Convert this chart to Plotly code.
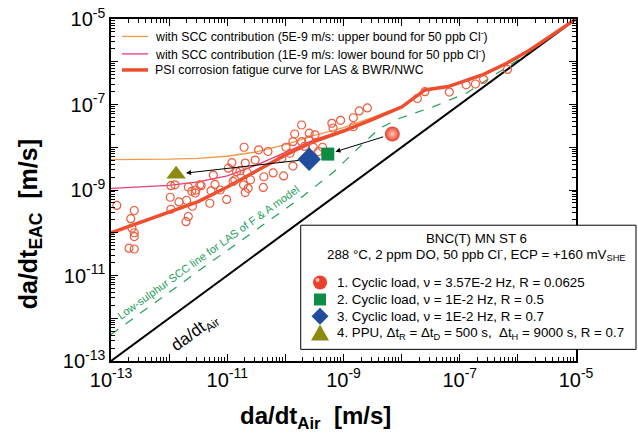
import plotly.graph_objects as go

# ---- data (log10 of da/dt values) ----
curve_x = [-13, -12.5, -12, -11.5, -11, -10.5, -10, -9.5, -9, -8.5, -8, -7.6, -7.2, -6.6, -6.2, -5.8, -5]
psi_y   = [-10.0, -9.76, -9.52, -9.27, -8.93, -8.55, -8.18, -7.86, -7.62, -7.35, -7.06, -6.66, -6.58, -6.30, -6.04, -5.73, -5.0]
upper_y = [-8.29, -8.29, -8.28, -8.26, -8.21, -8.11, -7.94, -7.72, -7.54, -7.30, -7.04, -6.65, -6.57, -6.30, -6.04, -5.73, -5.0]
lower_y = [-8.96, -8.93, -8.89, -8.81, -8.67, -8.42, -8.12, -7.82, -7.60, -7.34, -7.05, -6.66, -6.58, -6.30, -6.04, -5.73, -5.0]

ls_x = [-13, -11.5, -9.75, -9.17, -8.6, -8.37, -8.03, -7.45, -6.88, -6.53, -6.19, -5.8, -5.0]
ls_y = [-12.38, -10.9, -9.2, -8.58, -7.83, -7.55, -7.32, -7.05, -6.73, -6.42, -6.11, -5.78, -5.0]

air_x = [-13, -5]
air_y = [-13, -5]

data_x = [-12.90, -12.66, -12.60, -12.64, -12.60, -12.60, -12.69, -12.60,
          -11.97, -11.98, -11.97, -11.90, -11.83, -11.70, -11.67, -11.61, -11.67, -11.71,
          -11.60, -11.54, -11.45, -11.30, -11.28, -11.24, -11.21, -11.12, -11.01, -10.92,
          -10.90, -10.84, -10.98, -10.78, -10.69, -10.71, -10.66, -10.64, -10.69, -10.60,
          -10.52, -10.46, -10.38, -10.37, -10.30, -10.21, -10.06, -10.03, -9.99, -9.92,
          -9.87, -9.84, -9.72, -9.72, -9.87, -9.67, -9.59, -9.49, -9.60, -9.52,
          -9.43, -9.36, -9.20, -9.18, -9.05, -8.83, -8.83, -8.73, -8.59, -7.73,
          -7.60, -7.18, -6.89, -6.73, -6.59, -6.18,
          -11.47, -11.55, -10.72, -10.87]
data_y = [-9.36, -9.67, -9.48, -9.89, -10.00, -10.09, -10.36, -10.38,
          -8.90, -9.17, -9.45, -8.88, -9.28, -9.24, -8.93, -9.03, -9.62, -9.74,
          -9.38, -9.00, -8.90, -9.31, -9.02, -8.65, -8.87, -9.00, -9.22, -8.36,
          -8.80, -8.57, -8.49, -8.55, -8.37, -8.00, -8.59, -8.96, -9.06, -8.76,
          -8.30, -8.06, -8.94, -8.69, -8.10, -8.60, -8.26, -8.67, -8.00, -8.14,
          -7.87, -7.69, -7.48, -7.87, -8.44, -7.98, -7.67, -7.71, -7.83, -8.00,
          -8.10, -8.00, -7.44, -7.55, -7.37, -7.31, -7.52, -7.15, -7.08, -6.86,
          -6.70, -6.71, -6.54, -6.52, -6.41, -6.18,
          -8.88, -9.07, -8.88, -8.76]

spec_names = ["1. Cyclic load, \u03bd = 3.57E-2 Hz, R = 0.0625",
              "2. Cyclic load, \u03bd = 1E-2 Hz, R = 0.5",
              "3. Cyclic load, \u03bd = 1E-2 Hz, R = 0.7",
              "4. PPU, \u0394t<sub>R</sub> = \u0394t<sub>D</sub> = 500 s,\u00a0 \u0394t<sub>H</sub> = 9000 s, R = 0.7"]
spec_x = [-8.16, -9.27, -9.59, -11.88]
spec_y = [-7.69, -8.16, -8.28, -8.63]

line_names = ["with SCC contribution (5E-9 m/s: upper bound for 50 ppb Cl<sup>-</sup>)",
              "with SCC contribution (1E-9 m/s: lower bound for 50 ppb Cl<sup>-</sup>)",
              "PSI corrosion fatigue curve for LAS & BWR/NWC"]

decades = list(range(-13, -4))
tick_text = ["10<sup>-13</sup>", "", "10<sup>-11</sup>", "", "10<sup>-9</sup>", "", "10<sup>-7</sup>", "", "10<sup>-5</sup>"]

# ---- styles ----
p = lambda arr: [10 ** v for v in arr]
FONT = "Liberation Sans, Arial, sans-serif"
C_UP, C_LO, C_PSI = "#F39A4A", "#E83C78", "#EE4D2E"
C_LS, C_PT = "#23A05A", "#EE5A3C"
SPEC_COL = ["#E8402A", "#0E8C45", "#1F4E9E", "#8B8B12"]

fig = go.Figure()
fig.add_trace(go.Scatter(x=p(curve_x), y=p(upper_y), mode="lines", showlegend=False,
                         line=dict(color=C_UP, width=1.3), name=line_names[0]))
fig.add_trace(go.Scatter(x=p(curve_x), y=p(lower_y), mode="lines", showlegend=False,
                         line=dict(color=C_LO, width=1.3), name=line_names[1]))
fig.add_trace(go.Scatter(x=p(ls_x), y=p(ls_y), mode="lines", showlegend=False,
                         line=dict(color=C_LS, width=1.2, dash="dash")))
fig.add_trace(go.Scatter(x=p(air_x), y=p(air_y), mode="lines", showlegend=False,
                         line=dict(color="black", width=2)))
fig.add_trace(go.Scatter(x=p(curve_x), y=p(psi_y), mode="lines", showlegend=False,
                         line=dict(color=C_PSI, width=3.5), name=line_names[2]))
fig.add_trace(go.Scatter(x=p(data_x), y=p(data_y), mode="markers", showlegend=False,
                         marker=dict(symbol="circle-open", size=8, color=C_PT,
                                     line=dict(width=1.2, color=C_PT))))

spec_styles = [
    dict(symbol="circle", size=15, color=SPEC_COL[0], gradient=dict(type="radial", color="#FFC8B8")),
    dict(symbol="square", size=13, color=SPEC_COL[1]),
    dict(symbol="diamond", size=18, color=SPEC_COL[2]),
    dict(symbol="triangle-up", size=17, color=SPEC_COL[3]),
]
for nm, sx, sy, st in zip(spec_names, spec_x, spec_y, spec_styles):
    fig.add_trace(go.Scatter(x=[10 ** sx], y=[10 ** sy], mode="markers", name=nm,
                             showlegend=False, marker=st))

ax_common = dict(type="log", range=[-13, -5], tickmode="array",
                 tickvals=p(decades), ticktext=tick_text,
                 ticks="inside", ticklen=7, tickwidth=1.2, tickcolor="black",
                 showline=True, linecolor="black", linewidth=1.5, mirror="ticks",
                 showgrid=False, zeroline=False, ticklabeloverflow="allow",
                 tickfont=dict(size=20, color="black", family=FONT),
                 minor=dict(tickmode="array",
                            tickvals=[m * 10 ** e for e in range(-13, -5) for m in range(2, 10)],
                            ticks="inside", ticklen=4, tickwidth=1, tickcolor="black",
                            showgrid=False))

# plot-area geometry helpers (paper units per pixel)
PW, PH = 465.0, 342.0
px = lambda d: d / PW
py = lambda d: d / PH

annotations = [
    dict(x=spec_x[1], y=spec_y[1], ax=spec_x[0], ay=spec_y[0], xref="x", yref="y",
         axref="x", ayref="y", showarrow=True, arrowhead=2, arrowsize=1, arrowwidth=1,
         arrowcolor="black", standoff=8, startstandoff=8, text=""),
    dict(x=spec_x[3], y=spec_y[3], ax=spec_x[2], ay=spec_y[2], xref="x", yref="y",
         axref="x", ayref="y", showarrow=True, arrowhead=2, arrowsize=1, arrowwidth=1,
         arrowcolor="black", standoff=10, startstandoff=9, text=""),
    dict(x=-11.32, y=-10.46, xref="x", yref="y", showarrow=False, textangle=-35.7,
         text="Low-sulphur SCC line for LAS of F & A model",
         font=dict(size=11, color=C_LS, family=FONT)),
    dict(x=-11.55, y=-12.35, xref="x", yref="y", showarrow=False, textangle=-36,
         text="da/dt<sub>Air</sub>", font=dict(size=17, color="black", family=FONT)),
    dict(x=0.785, y=0.359, xref="paper", yref="paper", showarrow=False,
         xanchor="center", yanchor="middle",
         text="BNC(T) MN ST 6", font=dict(size=13.3, color="black", family=FONT)),
    dict(x=0.785, y=0.312, xref="paper", yref="paper", showarrow=False,
         xanchor="center", yanchor="middle",
         text="288 \u00b0C, 2 ppm DO, 50 ppb Cl<sup>-</sup>, ECP = +160 mV<sub>SHE</sub>",
         font=dict(size=13.3, color="black", family=FONT)),
    dict(x=-0.174, y=0.40, xref="paper", yref="paper", showarrow=False, textangle=-90,
         xanchor="center", yanchor="middle",
         text="<b>da/dt<sub>EAC</sub>\u00a0\u00a0[m/s]</b>",
         font=dict(size=25, color="black", family=FONT)),
    dict(x=0.439, y=-0.164, xref="paper", yref="paper", showarrow=False,
         xanchor="center", yanchor="middle",
         text="<b>da/dt<sub>Air</sub>\u00a0\u00a0[m/s]</b>",
         font=dict(size=24, color="black", family=FONT)),
]

shapes = [dict(type="rect", xref="paper", yref="paper", x0=0.408, x1=1.129,
               y0=0.034, y1=0.397, line=dict(color="black", width=1),
               fillcolor="white", layer="above")]

# top-left legend (line keys + labels)
leg1_y = [0.949, 0.898, 0.851]
for nm, col, w, ly in zip(line_names, [C_UP, C_LO, C_PSI], [1.3, 1.3, 3.5], leg1_y):
    shapes.append(dict(type="line", xref="paper", yref="paper", x0=0.0237, x1=0.0796,
                       y0=ly, y1=ly, line=dict(color=col, width=w), layer="above"))
    annotations.append(dict(x=0.0903, y=ly, xref="paper", yref="paper", showarrow=False,
                            xanchor="left", yanchor="middle", text=nm,
                            font=dict(size=12.3, color="black", family=FONT)))

# boxed legend (symbol keys + labels)
leg2_y = [0.2296, 0.1798, 0.1309, 0.0803]
kx = 0.4495
for i, (nm, ly) in enumerate(zip(spec_names, leg2_y)):
    col = SPEC_COL[i]
    if i == 0:
        shapes.append(dict(type="circle", xref="paper", yref="paper",
                           x0=kx - px(7), x1=kx + px(7), y0=ly - py(7), y1=ly + py(7),
                           fillcolor=col, line=dict(width=0), layer="above"))
        shapes.append(dict(type="circle", xref="paper", yref="paper",
                           x0=kx - px(4.5), x1=kx - px(0.5), y0=ly + py(0.5), y1=ly + py(4.5),
                           fillcolor="rgba(255,215,200,0.85)", line=dict(width=0), layer="above"))
    elif i == 1:
        shapes.append(dict(type="rect", xref="paper", yref="paper",
                           x0=kx - px(6), x1=kx + px(6), y0=ly - py(6), y1=ly + py(6),
                           fillcolor=col, line=dict(width=0), layer="above"))
    elif i == 2:
        path = (f"M {kx - px(8.5)},{ly} L {kx},{ly + py(8.5)} "
                f"L {kx + px(8.5)},{ly} L {kx},{ly - py(8.5)} Z")
        shapes.append(dict(type="path", xref="paper", yref="paper", path=path,
                           fillcolor=col, line=dict(width=0), layer="above"))
    else:
        path = (f"M {kx - px(9)},{ly - py(7)} L {kx + px(9)},{ly - py(7)} "
                f"L {kx},{ly + py(9)} Z")
        shapes.append(dict(type="path", xref="paper", yref="paper", path=path,
                           fillcolor=col, line=dict(width=0), layer="above"))
    annotations.append(dict(x=0.4817, y=ly, xref="paper", yref="paper", showarrow=False,
                            xanchor="left", yanchor="middle", text=nm,
                            font=dict(size=13.3, color="black", family=FONT)))

fig.update_layout(
    width=638, height=441,
    margin=dict(l=111, r=62, t=19, b=80, autoexpand=False),
    paper_bgcolor="white", plot_bgcolor="white",
    font=dict(family=FONT, color="black"),
    xaxis=ax_common, yaxis=ax_common,
    showlegend=False,
    shapes=shapes,
    annotations=annotations,
)

fig.write_html("out.html", config={"displayModeBar": False},
               post_script="document.body.style.margin='0px';document.body.style.overflow='hidden';")
